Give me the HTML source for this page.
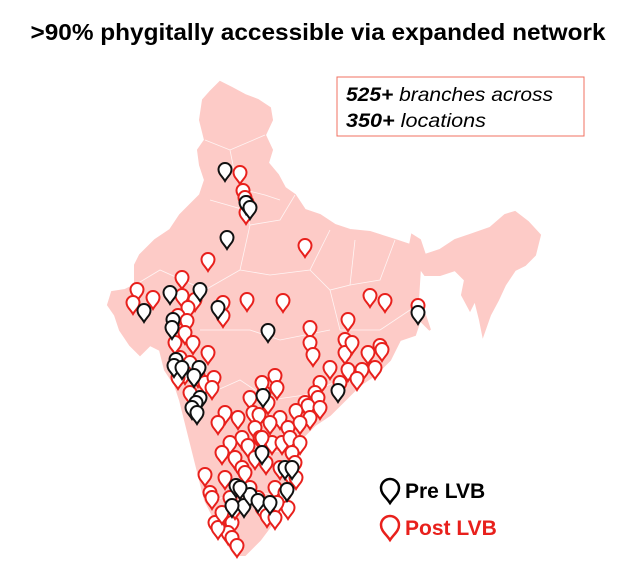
<!DOCTYPE html>
<html><head><meta charset="utf-8"><style>
body{margin:0;background:#fff;width:640px;height:568px;overflow:hidden;font-family:"Liberation Sans",Arial,sans-serif}
svg{position:absolute;left:0;top:0}
</style></head><body>
<svg width="640" height="568" viewBox="0 0 640 568">
<text x="318" y="40" text-anchor="middle" font-size="23" font-weight="bold" fill="#000" textLength="575" lengthAdjust="spacingAndGlyphs">&gt;90% phygitally accessible via expanded network</text>
<polygon fill="#fdcbc7" stroke="#fdcbc7" stroke-width="2" points="210,92 220,82 232,88 245,95 258,100 270,108 272,120 265,135 272,150 268,163 278,175 285,188 295,195 305,210 320,215 335,225 350,230 370,232 395,240 410,245 412,235 420,240 425,255 440,250 455,240 470,235 490,228 505,215 515,212 528,222 540,235 535,255 525,265 515,270 505,285 498,300 490,315 483,335 480,320 475,300 470,310 462,295 465,280 455,270 440,275 425,275 420,268 418,300 425,315 430,330 420,320 415,335 400,340 390,360 375,375 360,385 345,400 330,415 315,425 300,440 295,460 290,480 285,500 275,520 260,540 245,555 235,555 225,540 215,520 205,500 200,480 195,460 190,440 185,420 180,400 175,385 165,370 160,350 150,345 140,355 130,345 120,330 115,315 108,305 112,292 125,290 135,285 135,265 140,255 155,240 170,230 180,215 190,205 200,195 205,180 200,165 198,150 205,140 200,120 203,100"/>
<g fill="none" stroke="#fff" stroke-width="0.8" opacity="0.8">
<polyline points="205,140 230,150 265,135"/><polyline points="230,150 235,175 245,190 265,195 280,200"/><polyline points="210,200 245,210 250,225 280,220 295,195"/><polyline points="250,225 240,270 205,290 160,270 135,285"/><polyline points="240,270 270,275 310,270 330,230"/><polyline points="310,270 330,290 350,285 355,240"/><polyline points="350,285 380,280 395,240"/><polyline points="330,290 340,330 380,330 410,310"/><polyline points="200,330 250,330 280,340 330,330"/><polyline points="195,400 240,380 270,400 305,395 340,380"/><polyline points="240,440 270,450 295,455"/><polyline points="215,500 245,490 275,495"/></g>
<g id="pins"></g>
<rect x="337" y="77" width="247" height="59" fill="#fff" stroke="#f07060" stroke-width="1"/>
<text x="346" y="101" font-size="19" font-style="italic" textLength="207" lengthAdjust="spacingAndGlyphs"><tspan font-weight="bold">525+</tspan> branches across</text>
<text x="346" y="127" font-size="19" font-style="italic" textLength="140" lengthAdjust="spacingAndGlyphs"><tspan font-weight="bold">350+</tspan> locations</text>
<g><path d="M390,503 C386,497 381,494 381,488 A9,9 0 1 1 399,488 C399,494 394,497 390,503Z" fill="#fff" stroke="#000" stroke-width="2.5"/><text x="405" y="498" font-size="21" font-weight="bold" fill="#000">Pre LVB</text></g>
<g><path d="M390,540 C386,534 381,531 381,525 A9,9 0 1 1 399,525 C399,531 394,534 390,540Z" fill="#fff" stroke="#e8201c" stroke-width="2.5"/><text x="405" y="535" font-size="21" font-weight="bold" fill="#e8201c">Post LVB</text></g>
</svg>
<script>
const postX=[240,243,245,247,246,305,208,182,137,153,182,133,195,223,283,247,223,188,178,187,185,175,193,208,180,190,185,178,198,205,214,190,212,310,310,313,348,345,345,352,370,385,418,380,382,368,348,362,320,330,357,375,315,318,340,305,296,308,310,320,280,288,300,268,264,275,277,262,250,253,259,270,238,255,225,218,230,242,248,260,272,282,290,300,292,295,289,296,235,242,245,255,266,280,262,222,225,205,210,212,230,250,275,285,288,277,258,262,267,228,232,228,232,237,275,235,215,218,222];
const postY=[175,193,200,205,215,248,262,280,292,300,298,305,302,305,303,302,318,310,318,323,335,345,345,355,360,365,375,380,378,385,380,395,390,330,345,357,322,342,355,345,298,303,308,348,352,355,372,372,385,370,381,370,395,400,385,405,413,408,420,410,420,430,425,405,395,378,390,385,400,415,417,425,420,430,415,425,445,440,448,440,445,445,440,445,455,465,475,480,460,470,475,460,465,470,440,455,480,477,495,500,500,490,490,495,510,505,500,510,518,520,525,535,540,548,520,510,525,530,515];
const preX=[225,246,250,227,170,173,144,218,268,176,174,182,199,194,200,196,192,197,338,263,244,250,258,270,285,292,236,240,232,287,418,200,172,262];
const preY=[172,205,210,240,295,322,313,310,333,362,368,370,370,378,400,405,410,415,393,398,508,497,503,505,470,470,488,490,508,492,315,292,330,455];
const g=document.getElementById('pins');
function pin(cx,cy,color,name){
  const p=document.createElementNS('http://www.w3.org/2000/svg','path');
  const tx=cx, ty=cy+9;
  p.setAttribute('d',`M${tx},${ty} C${tx-3},${ty-5} ${tx-6.5},${ty-7} ${tx-6.5},${ty-11.5} A6.5,6.5 0 1 1 ${tx+6.5},${ty-11.5} C${tx+6.5},${ty-7} ${tx+3},${ty-5} ${tx},${ty}Z`);
  p.setAttribute('fill','#fff');p.setAttribute('stroke',color);p.setAttribute('stroke-width','2');
  
  
  g.appendChild(p);
}
for(let i=0;i<postX.length;i++) pin(postX[i],postY[i],'#e8201c','post-lvb-pin');
for(let i=0;i<preX.length;i++) pin(preX[i],preY[i],'#111','pre-lvb-pin');
</script>
</body></html>
